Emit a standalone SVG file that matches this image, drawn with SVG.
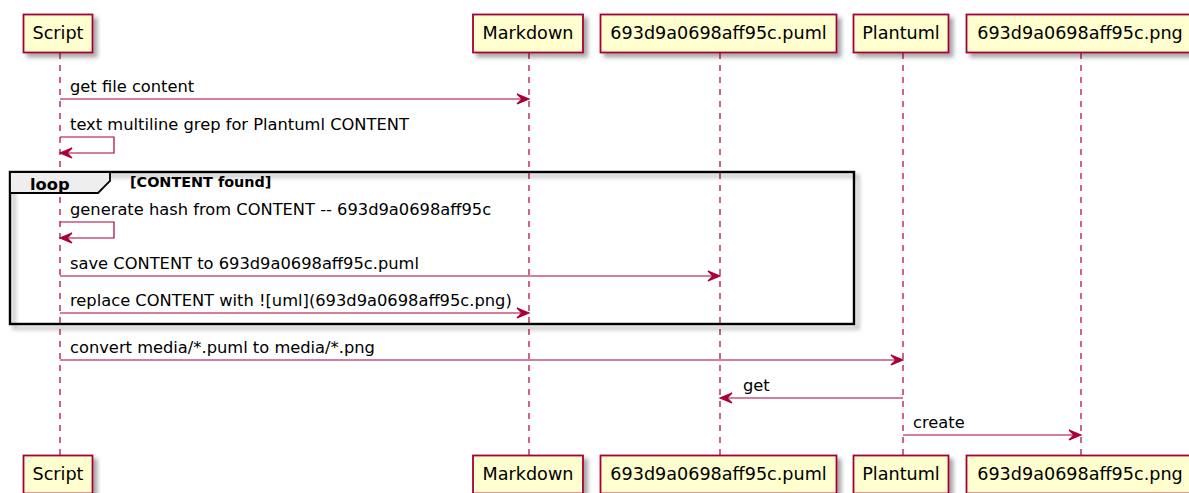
<svg xmlns="http://www.w3.org/2000/svg" width="1189" height="493" viewBox="0 0 1189 493">
<style>
.bg{fill:#FFFFFF}
.life{stroke:#A80036;stroke-width:1.2;stroke-dasharray:6,6;fill:none}
.pbox{fill:#FEFECE;stroke:#A80036;stroke-width:1.8}
.ptxt{font-family:"DejaVu Sans",sans-serif;font-size:17.6px;fill:#000000;text-anchor:middle}
.msg{stroke:#A80036;stroke-width:1.2;fill:none}
.head{fill:#A80036;stroke:#A80036;stroke-width:1.2}
.mtxt{font-family:"DejaVu Sans",sans-serif;font-size:16.3px;fill:#000000}
.frame{fill:none;stroke:#000000;stroke-width:2.4}
.tab{fill:#EEEEEE;stroke:#000000;stroke-width:1.8}
.ltxt{font-family:"DejaVu Sans",sans-serif;font-size:16.3px;font-weight:bold;fill:#000000}
.gtxt{font-family:"DejaVu Sans",sans-serif;font-size:14.4px;font-weight:bold;fill:#000000}
</style>
<defs>
<filter id="sh" x="-10%" y="-10%" width="130%" height="140%">
<feDropShadow dx="4" dy="4" stdDeviation="2" flood-color="#000000" flood-opacity="0.35"/>
</filter>
</defs>
<rect class="bg" x="0" y="0" width="1189" height="493"/>

<g id="lifelines">
<line class="life" x1="60" y1="53" x2="60" y2="455"/>
<line class="life" x1="529" y1="53" x2="529" y2="455"/>
<line class="life" x1="720" y1="53" x2="720" y2="455"/>
<line class="life" x1="903" y1="53" x2="903" y2="455"/>
<line class="life" x1="1081" y1="53" x2="1081" y2="455"/>
</g>

<g id="loop">
<rect class="frame" x="10" y="172" width="844" height="152" filter="url(#sh)"/>
<polygon class="tab" points="10,172 110,172 110,181 98,193 10,193"/>
<text class="ltxt" x="30" y="190">loop</text>
<text class="gtxt" x="130" y="187">[CONTENT found]</text>
</g>

<g id="Script">
<rect class="pbox" x="23.5" y="14.5" width="69" height="38" filter="url(#sh)"/>
<text class="ptxt" x="58" y="39">Script</text>
<rect class="pbox" x="23.5" y="455.5" width="69" height="38" filter="url(#sh)"/>
<text class="ptxt" x="58" y="480">Script</text>
</g>
<g id="Markdown">
<rect class="pbox" x="473" y="14.5" width="110" height="38" filter="url(#sh)"/>
<text class="ptxt" x="528" y="39">Markdown</text>
<rect class="pbox" x="473" y="455.5" width="110" height="38" filter="url(#sh)"/>
<text class="ptxt" x="528" y="480">Markdown</text>
</g>
<g id="puml">
<rect class="pbox" x="600.5" y="14.5" width="236" height="38" filter="url(#sh)"/>
<text class="ptxt" x="718.5" y="39">693d9a0698aff95c.puml</text>
<rect class="pbox" x="600.5" y="455.5" width="236" height="38" filter="url(#sh)"/>
<text class="ptxt" x="718.5" y="480">693d9a0698aff95c.puml</text>
</g>
<g id="Plantuml">
<rect class="pbox" x="853.5" y="14.5" width="95" height="38" filter="url(#sh)"/>
<text class="ptxt" x="901" y="39">Plantuml</text>
<rect class="pbox" x="853.5" y="455.5" width="95" height="38" filter="url(#sh)"/>
<text class="ptxt" x="901" y="480">Plantuml</text>
</g>
<g id="png">
<rect class="pbox" x="966.5" y="14.5" width="230" height="38" filter="url(#sh)"/>
<text class="ptxt" x="1080" y="39">693d9a0698aff95c.png</text>
<rect class="pbox" x="966.5" y="455.5" width="230" height="38" filter="url(#sh)"/>
<text class="ptxt" x="1080" y="480">693d9a0698aff95c.png</text>
</g>

<g id="connectors">
<line class="msg" x1="60" y1="99" x2="527" y2="99"/>
<polygon class="head" points="517,94 529,99 517,104 522,99"/>
<text class="mtxt" x="70" y="92">get file content</text>

<polyline class="msg" points="60,137 114,137 114,153 62,153"/>
<polygon class="head" points="72,148 60,153 72,158 67,153"/>
<text class="mtxt" x="70" y="130">text multiline grep for Plantuml CONTENT</text>

<polyline class="msg" points="60,222 114,222 114,238 62,238"/>
<polygon class="head" points="72,233 60,238 72,243 67,238"/>
<text class="mtxt" x="70" y="215">generate hash from CONTENT -- 693d9a0698aff95c</text>

<line class="msg" x1="60" y1="276" x2="718" y2="276"/>
<polygon class="head" points="708,271 720,276 708,281 713,276"/>
<text class="mtxt" x="70" y="269">save CONTENT to 693d9a0698aff95c.puml</text>

<line class="msg" x1="60" y1="313" x2="527" y2="313"/>
<polygon class="head" points="517,308 529,313 517,318 522,313"/>
<text class="mtxt" x="70" y="306">replace CONTENT with ![uml](693d9a0698aff95c.png)</text>

<line class="msg" x1="60" y1="360" x2="901" y2="360"/>
<polygon class="head" points="891,355 903,360 891,365 896,360"/>
<text class="mtxt" x="70" y="353">convert media/*.puml to media/*.png</text>

<line class="msg" x1="722" y1="398" x2="903" y2="398"/>
<polygon class="head" points="732,393 720,398 732,403 727,398"/>
<text class="mtxt" x="743" y="391">get</text>

<line class="msg" x1="903" y1="435" x2="1079" y2="435"/>
<polygon class="head" points="1069,430 1081,435 1069,440 1074,435"/>
<text class="mtxt" x="913" y="428">create</text>
</g>
</svg>
